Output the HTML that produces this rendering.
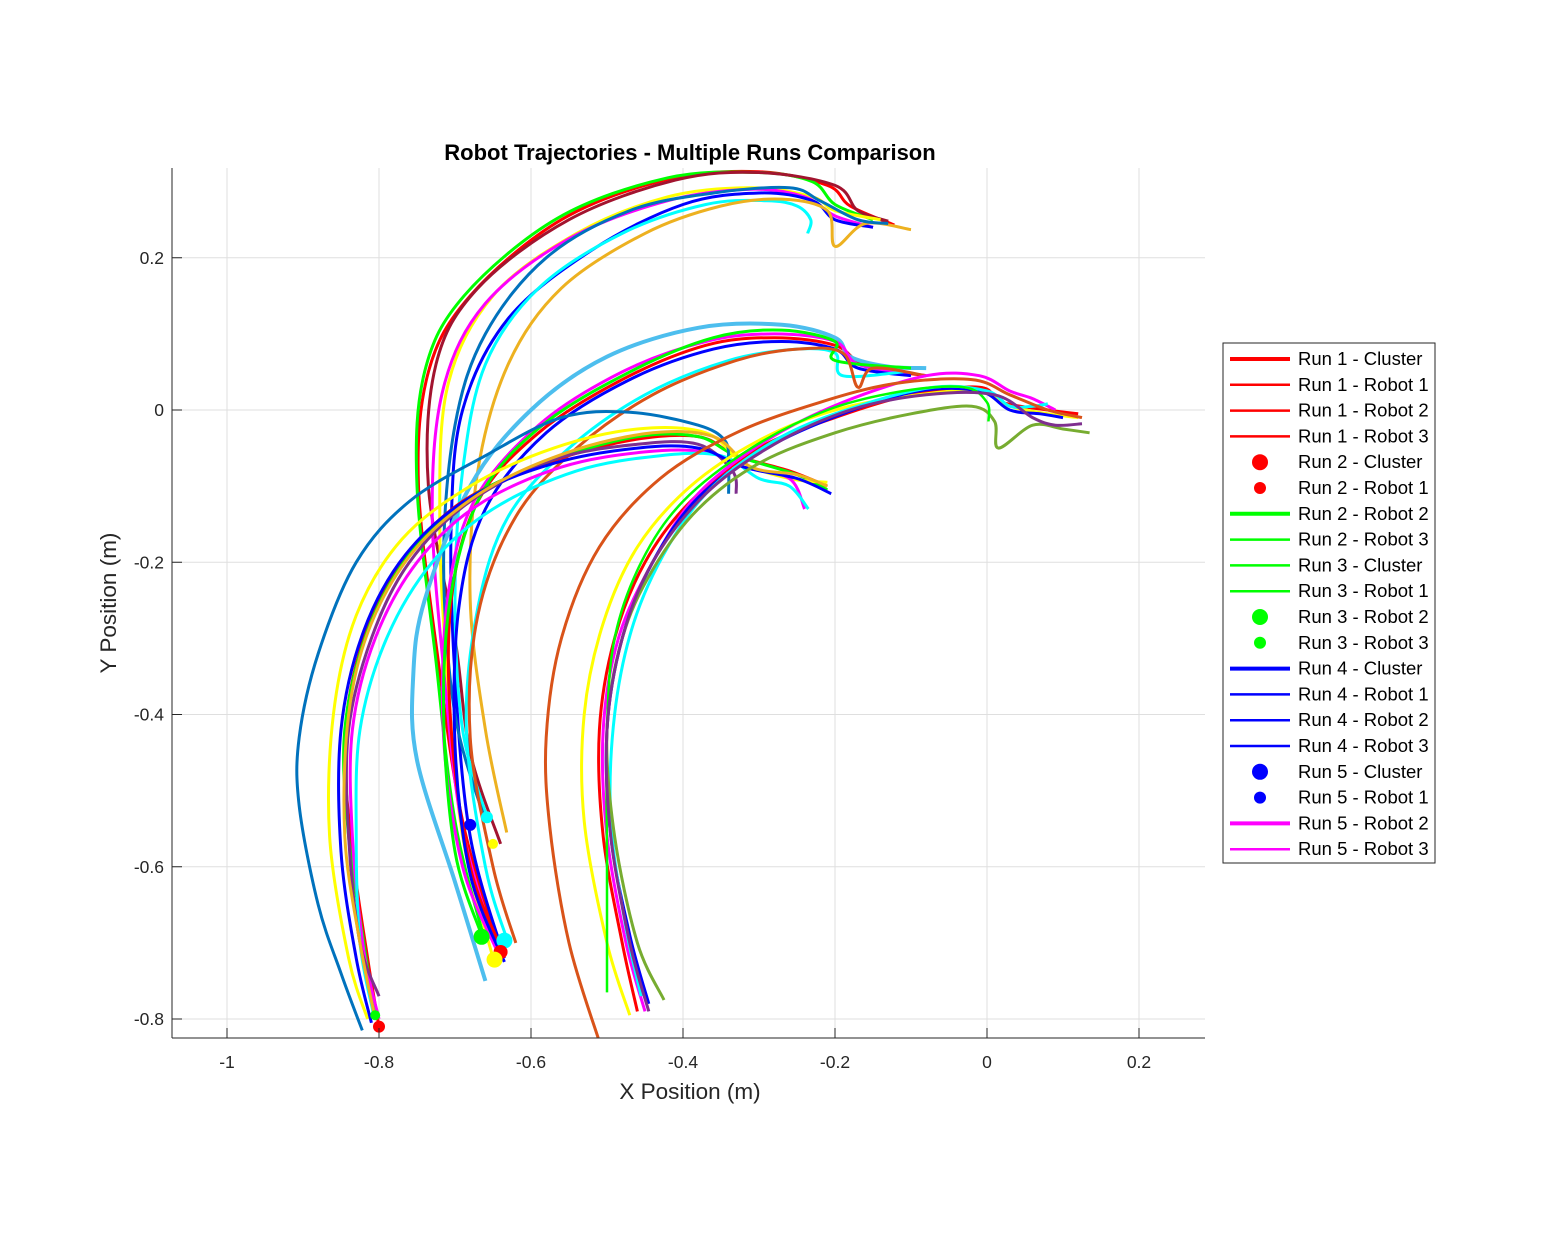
<!DOCTYPE html>
<html><head><meta charset="utf-8"><style>
body{margin:0;background:#fff;font-family:"Liberation Sans",Arial,sans-serif;}
svg text{font-family:"Liberation Sans",Arial,sans-serif;}
</style></head><body>
<svg id="chart" width="1563" height="1250" xmlns="http://www.w3.org/2000/svg">
<rect width="1563" height="1250" fill="#fff"/>
<g id="grid"></g>
<defs><clipPath id="pc"><rect x="172" y="168" width="1033" height="870"/></clipPath></defs>
<g id="series" clip-path="url(#pc)"></g>
<line x1="172" y1="168" x2="172" y2="1038" stroke="#262626" stroke-width="1"/>
<line x1="172" y1="1038" x2="1205" y2="1038" stroke="#262626" stroke-width="1"/>
<g id="ticks"></g>
<text x="690" y="160" text-anchor="middle" font-size="22" font-weight="bold" fill="#000">Robot Trajectories - Multiple Runs Comparison</text>
<text x="690" y="1099" text-anchor="middle" font-size="22.5" fill="#262626">X Position (m)</text>
<text x="116" y="603" text-anchor="middle" font-size="22.5" fill="#262626" transform="rotate(-90 116 603)">Y Position (m)</text>
<g id="legend"></g>
</svg>
<script>
const xTicks=[-1,-0.8,-0.6,-0.4,-0.2,0,0.2];
const yTicks=[-0.8,-0.6,-0.4,-0.2,0,0.2];
const xTickLabels=["-1","-0.8","-0.6","-0.4","-0.2","0","0.2"];
const yTickLabels=["-0.8","-0.6","-0.4","-0.2","0","0.2"];
const trajColors=["#FF0000","#00FF00","#A2142F","#FFFF00","#FF00FF","#0000FF","#00FFFF","#EDB120","#0072BD",
"#FF0000","#4DBEEE","#FF00FF","#0000FF","#00FFFF","#00FF00","#D95319",
"#FF0000","#00FF00","#FFFF00","#FF00FF","#00FFFF","#7E2F8E","#0072BD","#0000FF","#EDB120",
"#FF0000","#FF00FF","#FFFF00","#0000FF","#00FFFF","#77AC30","#00FF00","#7E2F8E","#D95319"];
const trajWidths=[3,3,3,3,3,3,3,3,3, 3,4,3,3,3,3,3, 3,3,3,3,3,3,3,3,3, 3,3,3,3,3,3,2.5,3,3];
const trajectories=[
[[-0.641,-0.710],[-0.690,-0.540],[-0.722,-0.330],[-0.748,-0.100],[-0.735,0.050],[-0.680,0.150],[-0.560,0.250],[-0.420,0.303],[-0.300,0.313],[-0.210,0.295],[-0.180,0.268],[-0.122,0.243]],
[[-0.660,-0.700],[-0.700,-0.540],[-0.725,-0.330],[-0.750,-0.100],[-0.740,0.050],[-0.688,0.150],[-0.565,0.252],[-0.420,0.305],[-0.300,0.312],[-0.230,0.300],[-0.200,0.270],[-0.150,0.250]],
[[-0.640,-0.570],[-0.680,-0.450],[-0.700,-0.300],[-0.735,-0.100],[-0.725,0.060],[-0.670,0.160],[-0.550,0.250],[-0.410,0.302],[-0.300,0.312],[-0.200,0.295],[-0.170,0.262],[-0.130,0.248]],
[[-0.650,-0.720],[-0.690,-0.560],[-0.710,-0.350],[-0.720,-0.150],[-0.710,0.030],[-0.650,0.150],[-0.540,0.232],[-0.420,0.280],[-0.310,0.292],[-0.230,0.280],[-0.200,0.262],[-0.140,0.250]],
[[-0.640,-0.725],[-0.690,-0.550],[-0.715,-0.340],[-0.730,-0.130],[-0.715,0.030],[-0.660,0.140],[-0.550,0.225],[-0.420,0.275],[-0.310,0.290],[-0.240,0.280],[-0.200,0.255],[-0.150,0.240]],
[[-0.635,-0.720],[-0.680,-0.560],[-0.700,-0.350],[-0.705,-0.150],[-0.690,0.000],[-0.630,0.120],[-0.520,0.210],[-0.400,0.270],[-0.300,0.285],[-0.230,0.275],[-0.200,0.250],[-0.150,0.240]],
[[-0.658,-0.535],[-0.690,-0.420],[-0.700,-0.250],[-0.690,-0.080],[-0.660,0.060],[-0.590,0.160],[-0.480,0.232],[-0.370,0.270],[-0.290,0.275],[-0.250,0.268],[-0.232,0.250],[-0.236,0.232]],
[[-0.632,-0.555],[-0.660,-0.420],[-0.680,-0.250],[-0.670,-0.080],[-0.630,0.060],[-0.560,0.160],[-0.450,0.232],[-0.350,0.268],[-0.270,0.277],[-0.210,0.262],[-0.200,0.215],[-0.160,0.245],[-0.100,0.237]],
[[-0.660,-0.540],[-0.700,-0.400],[-0.715,-0.200],[-0.700,-0.020],[-0.660,0.100],[-0.580,0.200],[-0.470,0.262],[-0.360,0.285],[-0.260,0.292],[-0.220,0.275],[-0.170,0.250],[-0.130,0.245]],
[[-0.640,-0.705],[-0.680,-0.600],[-0.705,-0.420],[-0.705,-0.250],[-0.670,-0.120],[-0.590,-0.030],[-0.480,0.040],[-0.370,0.085],[-0.280,0.095],[-0.200,0.085],[-0.160,0.058],[-0.080,0.045]],
[[-0.660,-0.750],[-0.700,-0.620],[-0.750,-0.460],[-0.755,-0.350],[-0.740,-0.250],[-0.680,-0.100],[-0.600,0.000],[-0.500,0.070],[-0.380,0.108],[-0.270,0.112],[-0.200,0.095],[-0.180,0.070],[-0.130,0.057],[-0.080,0.055]],
[[-0.645,-0.710],[-0.690,-0.600],[-0.715,-0.430],[-0.710,-0.250],[-0.675,-0.120],[-0.590,-0.020],[-0.480,0.050],[-0.370,0.090],[-0.280,0.100],[-0.200,0.090],[-0.170,0.060],[-0.100,0.048]],
[[-0.635,-0.725],[-0.680,-0.610],[-0.700,-0.440],[-0.695,-0.260],[-0.660,-0.130],[-0.580,-0.030],[-0.470,0.040],[-0.360,0.080],[-0.270,0.090],[-0.200,0.080],[-0.170,0.055],[-0.100,0.045]],
[[-0.630,-0.700],[-0.660,-0.600],[-0.685,-0.420],[-0.670,-0.260],[-0.630,-0.140],[-0.550,-0.050],[-0.450,0.020],[-0.340,0.065],[-0.250,0.080],[-0.200,0.075],[-0.190,0.045],[-0.110,0.050]],
[[-0.665,-0.690],[-0.700,-0.580],[-0.715,-0.400],[-0.705,-0.240],[-0.665,-0.110],[-0.585,-0.020],[-0.470,0.050],[-0.360,0.095],[-0.270,0.105],[-0.200,0.090],[-0.200,0.065],[-0.100,0.055]],
[[-0.620,-0.700],[-0.650,-0.600],[-0.680,-0.430],[-0.670,-0.270],[-0.620,-0.140],[-0.540,-0.050],[-0.440,0.020],[-0.330,0.065],[-0.250,0.080],[-0.190,0.075],[-0.170,0.030],[-0.150,0.055],[-0.080,0.045]],
[[-0.800,-0.810],[-0.815,-0.720],[-0.835,-0.580],[-0.845,-0.430],[-0.820,-0.300],[-0.770,-0.200],[-0.690,-0.120],[-0.580,-0.070],[-0.470,-0.040],[-0.380,-0.035],[-0.330,-0.060],[-0.260,-0.080],[-0.210,-0.100]],
[[-0.805,-0.795],[-0.820,-0.700],[-0.840,-0.560],[-0.845,-0.420],[-0.815,-0.290],[-0.760,-0.190],[-0.680,-0.115],[-0.570,-0.065],[-0.460,-0.035],[-0.380,-0.035],[-0.330,-0.060],[-0.250,-0.085],[-0.210,-0.105]],
[[-0.815,-0.800],[-0.840,-0.720],[-0.865,-0.560],[-0.860,-0.400],[-0.830,-0.270],[-0.770,-0.170],[-0.680,-0.100],[-0.570,-0.050],[-0.460,-0.025],[-0.370,-0.030],[-0.320,-0.070],[-0.260,-0.090],[-0.210,-0.095]],
[[-0.800,-0.800],[-0.820,-0.710],[-0.835,-0.560],[-0.835,-0.420],[-0.805,-0.300],[-0.750,-0.200],[-0.670,-0.125],[-0.560,-0.075],[-0.450,-0.055],[-0.370,-0.055],[-0.320,-0.075],[-0.260,-0.090],[-0.240,-0.130]],
[[-0.808,-0.790],[-0.825,-0.700],[-0.830,-0.560],[-0.825,-0.420],[-0.790,-0.300],[-0.730,-0.200],[-0.650,-0.130],[-0.540,-0.080],[-0.430,-0.060],[-0.350,-0.060],[-0.300,-0.090],[-0.260,-0.100],[-0.235,-0.130]],
[[-0.800,-0.770],[-0.825,-0.700],[-0.840,-0.560],[-0.840,-0.420],[-0.810,-0.300],[-0.760,-0.200],[-0.680,-0.120],[-0.570,-0.065],[-0.460,-0.045],[-0.380,-0.045],[-0.335,-0.080],[-0.330,-0.110]],
[[-0.822,-0.815],[-0.850,-0.740],[-0.880,-0.650],[-0.905,-0.520],[-0.905,-0.430],[-0.880,-0.320],[-0.830,-0.200],[-0.760,-0.120],[-0.660,-0.060],[-0.560,-0.010],[-0.470,-0.003],[-0.380,-0.020],[-0.345,-0.040],[-0.340,-0.070],[-0.340,-0.110]],
[[-0.810,-0.805],[-0.830,-0.720],[-0.850,-0.580],[-0.850,-0.420],[-0.820,-0.290],[-0.765,-0.190],[-0.680,-0.115],[-0.570,-0.070],[-0.460,-0.050],[-0.380,-0.050],[-0.320,-0.075],[-0.250,-0.090],[-0.205,-0.110]],
[[-0.805,-0.800],[-0.825,-0.700],[-0.845,-0.560],[-0.840,-0.400],[-0.810,-0.280],[-0.750,-0.180],[-0.660,-0.105],[-0.550,-0.055],[-0.440,-0.030],[-0.360,-0.035],[-0.310,-0.075],[-0.250,-0.085],[-0.210,-0.100]],
[[-0.460,-0.790],[-0.480,-0.700],[-0.505,-0.560],[-0.510,-0.420],[-0.490,-0.300],[-0.450,-0.200],[-0.390,-0.120],[-0.300,-0.050],[-0.200,-0.010],[-0.100,0.020],[-0.010,0.030],[0.020,0.010],[0.080,0.000],[0.120,-0.005]],
[[-0.450,-0.790],[-0.475,-0.700],[-0.500,-0.560],[-0.505,-0.420],[-0.485,-0.300],[-0.440,-0.200],[-0.380,-0.110],[-0.290,-0.040],[-0.190,0.010],[-0.080,0.045],[-0.010,0.045],[0.030,0.025],[0.060,0.015],[0.090,0.000]],
[[-0.470,-0.795],[-0.500,-0.700],[-0.530,-0.540],[-0.530,-0.400],[-0.505,-0.280],[-0.460,-0.180],[-0.390,-0.100],[-0.300,-0.040],[-0.200,0.000],[-0.090,0.020],[-0.010,0.025],[0.030,0.005],[0.080,-0.005],[0.120,-0.010]],
[[-0.445,-0.780],[-0.470,-0.690],[-0.495,-0.560],[-0.500,-0.420],[-0.480,-0.300],[-0.440,-0.200],[-0.380,-0.115],[-0.290,-0.050],[-0.190,-0.005],[-0.090,0.025],[-0.010,0.025],[0.030,0.000],[0.070,-0.005],[0.100,-0.010]],
[[-0.455,-0.770],[-0.475,-0.680],[-0.495,-0.540],[-0.490,-0.400],[-0.465,-0.280],[-0.420,-0.180],[-0.360,-0.100],[-0.270,-0.035],[-0.170,0.005],[-0.070,0.030],[0.000,0.025],[0.030,0.005],[0.060,0.005],[0.080,0.008]],
[[-0.425,-0.775],[-0.460,-0.700],[-0.490,-0.560],[-0.500,-0.420],[-0.480,-0.300],[-0.440,-0.210],[-0.380,-0.130],[-0.300,-0.070],[-0.200,-0.030],[-0.100,-0.005],[-0.020,0.005],[0.010,-0.015],[0.015,-0.050],[0.060,-0.020],[0.100,-0.025],[0.135,-0.030]],
[[-0.500,-0.765],[-0.500,-0.600],[-0.500,-0.420],[-0.490,-0.300],[-0.455,-0.200],[-0.400,-0.120],[-0.310,-0.050],[-0.210,0.000],[-0.110,0.025],[-0.030,0.030],[0.000,0.010],[0.002,-0.015]],
[[-0.445,-0.790],[-0.470,-0.700],[-0.495,-0.560],[-0.500,-0.420],[-0.480,-0.300],[-0.440,-0.200],[-0.370,-0.110],[-0.280,-0.045],[-0.180,0.000],[-0.080,0.020],[0.010,0.020],[0.060,-0.010],[0.090,-0.020],[0.125,-0.018]],
[[-0.510,-0.830],[-0.550,-0.700],[-0.575,-0.550],[-0.580,-0.430],[-0.560,-0.300],[-0.510,-0.180],[-0.430,-0.090],[-0.330,-0.030],[-0.220,0.010],[-0.120,0.035],[-0.020,0.040],[0.030,0.020],[0.080,0.000],[0.125,-0.010]]
];
const markerX=[-0.800,-0.805,-0.665,-0.635,-0.640,-0.648,-0.658,-0.680,-0.650];
const markerY=[-0.810,-0.795,-0.692,-0.697,-0.712,-0.722,-0.535,-0.545,-0.570];
const markerColors=["#FF0000","#00FF00","#00FF00","#00FFFF","#FF0000","#FFFF00","#00FFFF","#0000FF","#FFFF00"];
const markerSizes=[6,5,8,8,7,8,6,6,5];
const legendLabels=["Run 1 - Cluster","Run 1 - Robot 1","Run 1 - Robot 2","Run 1 - Robot 3","Run 2 - Cluster","Run 2 - Robot 1","Run 2 - Robot 2","Run 2 - Robot 3","Run 3 - Cluster","Run 3 - Robot 1","Run 3 - Robot 2","Run 3 - Robot 3","Run 4 - Cluster","Run 4 - Robot 1","Run 4 - Robot 2","Run 4 - Robot 3","Run 5 - Cluster","Run 5 - Robot 1","Run 5 - Robot 2","Run 5 - Robot 3"];
const legendColors=["#FF0000","#FF0000","#FF0000","#FF0000","#FF0000","#FF0000","#00FF00","#00FF00","#00FF00","#00FF00","#00FF00","#00FF00","#0000FF","#0000FF","#0000FF","#0000FF","#0000FF","#0000FF","#FF00FF","#FF00FF"];
const legendKinds=["L3","L2","L2","L2","M8","M6","L3","L2","L2","L2","M8","M6","L3","L2","L2","L2","M8","M6","L3","L2"];

const NS="http://www.w3.org/2000/svg";
const X0=172,X1=1205,Y0=168,Y1=1038;
function sx(v){return 987+v*760;}
function sy(v){return 410-v*761.25;}
function mk(tag,attrs,parent){const e=document.createElementNS(NS,tag);for(const k in attrs)e.setAttribute(k,attrs[k]);parent.appendChild(e);return e;}
const grid=document.getElementById('grid'),ticks=document.getElementById('ticks');
xTicks.forEach((t,i)=>{const x=sx(t);
 const g=mk('line',{x1:x,x2:x,y1:Y0,y2:Y1,stroke:'#dfdfdf','stroke-width':1},grid);
 
 
 const tk=mk('line',{x1:x,x2:x,y1:Y1,y2:Y1-10,stroke:'#262626','stroke-width':1},ticks);
 
 
 const tx=mk('text',{x:x,y:Y1+30,'text-anchor':'middle','font-size':17.5,fill:'#262626'},ticks);tx.textContent=xTickLabels[i];
 
 
});
yTicks.forEach((t,i)=>{const y=sy(t);
 const g=mk('line',{x1:X0,x2:X1,y1:y,y2:y,stroke:'#dfdfdf','stroke-width':1},grid);
 
 
 const tk=mk('line',{x1:X0,x2:X0+10,y1:y,y2:y,stroke:'#262626','stroke-width':1},ticks);
 
 
 const tx=mk('text',{x:X0-8,y:y+6,'text-anchor':'end','font-size':17.5,fill:'#262626'},ticks);tx.textContent=yTickLabels[i];
 
 
});
function smooth(pts){
 const p=pts.map(q=>[sx(q[0]),sy(q[1])]);let d='M'+p[0][0].toFixed(1)+','+p[0][1].toFixed(1);
 for(let i=0;i<p.length-1;i++){const a=p[Math.max(i-1,0)],b=p[i],c=p[i+1],e=p[Math.min(i+2,p.length-1)];
  const c1=[b[0]+(c[0]-a[0])/6,b[1]+(c[1]-a[1])/6],c2=[c[0]-(e[0]-b[0])/6,c[1]-(e[1]-b[1])/6];
  d+=' C'+c1[0].toFixed(1)+','+c1[1].toFixed(1)+' '+c2[0].toFixed(1)+','+c2[1].toFixed(1)+' '+c[0].toFixed(1)+','+c[1].toFixed(1);}
 return d;}
const series=document.getElementById('series');
trajectories.forEach((tr,i)=>{
 const p=mk('path',{d:smooth(tr),fill:'none',stroke:trajColors[i],'stroke-width':trajWidths[i],'stroke-linejoin':'round'},series);
 
 
});
markerX.forEach((v,i)=>{
 const c=mk('circle',{cx:sx(v),cy:sy(markerY[i]),r:markerSizes[i],fill:markerColors[i]},series);
 
 
});
const lg=document.getElementById('legend');
const box=mk('rect',{x:1223,y:343,width:212,height:520,fill:'#fff',stroke:'#262626','stroke-width':1},lg);


legendLabels.forEach((lab,i)=>{const y=359+i*25.8;
 const k=legendKinds[i];
 if(k[0]==='L'){const l=mk('line',{x1:1230,x2:1290,y1:y,y2:y,stroke:legendColors[i],'stroke-width':k==='L3'?4:2.5},lg);
  
  }
 else{const c=mk('circle',{cx:1260,cy:y,r:k==='M8'?8:6,fill:legendColors[i]},lg);
  
  }
 const t=mk('text',{x:1298,y:y+6,'font-size':18.5,fill:'#000'},lg);t.textContent=lab;
 
 
});
</script>
</body></html>
